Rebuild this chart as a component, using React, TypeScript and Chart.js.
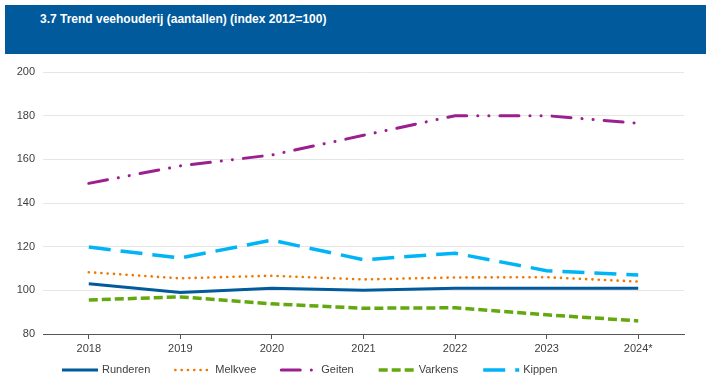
import React, { useEffect, useRef } from "react";
import { Chart, registerables } from "chart.js";

Chart.register(...registerables);

const title = "3.7 Trend veehouderij (aantallen) (index 2012=100)";
const years = ["2018", "2019", "2020", "2021", "2022", "2023", "2024*"];
const runderen = [103, 99, 101, 100, 101, 101, 101];
const melkvee = [108.3, 105.5, 106.7, 105, 105.9, 106, 104];
const geiten = [149, 157, 162, 171, 180, 180, 176.5];
const varkens = [95.6, 97, 93.8, 91.8, 92, 88.8, 86];
const kippen = [119.8, 114.8, 123, 114, 117, 109, 107];
const yMin = 80;
const yMax = 200;
const yStep = 20;

const FONT = "'Liberation Sans', Arial, sans-serif";
const TEXT = "#404040";

const legendPlugin = {
  id: "customLegend",
  afterDraw(chart: any) {
    const ctx = chart.ctx;
    const y = 370;
    let x = 62;
    const sample = 36;
    ctx.save();
    ctx.font = `11px ${FONT}`;
    ctx.textBaseline = "middle";
    chart.data.datasets.forEach((ds: any) => {
      ctx.save();
      ctx.strokeStyle = ds.borderColor;
      ctx.lineWidth = ds.borderWidth;
      ctx.lineCap = ds.borderCapStyle || "butt";
      ctx.setLineDash(ds.borderDash || []);
      ctx.beginPath();
      ctx.moveTo(x, y);
      ctx.lineTo(x + sample, y);
      ctx.stroke();
      ctx.restore();
      const tx = x + sample + 4;
      ctx.fillStyle = TEXT;
      ctx.fillText(ds.label, tx, y);
      x = tx + ctx.measureText(ds.label).width + 25;
    });
    ctx.restore();
  },
};

export default function App() {
  const ref = useRef<HTMLCanvasElement>(null);

  useEffect(() => {
    document.body.style.margin = "0";
    const chart = new Chart(ref.current!, {
      type: "line",
      data: {
        labels: years,
        datasets: [
          {
            label: "Runderen",
            data: runderen,
            borderColor: "#005a9b",
            borderWidth: 3,
            pointRadius: 0,
            tension: 0,
          },
          {
            label: "Melkvee",
            data: melkvee,
            borderColor: "#f07800",
            borderWidth: 2.6,
            borderDash: [0.1, 6.2],
            borderCapStyle: "round",
            pointRadius: 0,
          },
          {
            label: "Geiten",
            data: geiten,
            borderColor: "#9b1f8f",
            borderWidth: 3,
            borderDash: [19, 11, 0.1, 11, 0.1, 11],
            borderCapStyle: "round",
            pointRadius: 0,
          },
          {
            label: "Varkens",
            data: varkens,
            borderColor: "#64a80f",
            borderWidth: 3.5,
            borderDash: [9, 4],
            pointRadius: 0,
          },
          {
            label: "Kippen",
            data: kippen,
            borderColor: "#00b4f5",
            borderWidth: 3.5,
            borderDash: [22, 10],
            pointRadius: 0,
          },
        ],
      },
      options: {
        responsive: false,
        animation: false,
        layout: { padding: { top: 72, right: 22, bottom: 29, left: 0 } },
        plugins: {
          legend: { display: false },
          tooltip: { enabled: false },
          title: { display: false },
        },
        scales: {
          x: {
            offset: true,
            grid: {
              display: true,
              drawOnChartArea: false,
              drawTicks: true,
              tickLength: 5,
              color: "#555555",
            },
            border: { display: true, color: "#555555", width: 1 },
            ticks: {
              color: TEXT,
              font: { family: FONT, size: 11 },
              padding: 3,
              maxRotation: 0,
            },
            afterFit(scale: any) {
              scale.height = 20;
            },
          },
          y: {
            min: yMin,
            max: yMax,
            grid: { color: "#e6e6e6", drawTicks: false, lineWidth: 1 },
            border: { display: false },
            ticks: {
              stepSize: yStep,
              color: TEXT,
              font: { family: FONT, size: 11 },
              padding: 8,
            },
            afterFit(scale: any) {
              scale.width = 43;
            },
          },
        },
      },
      plugins: [legendPlugin],
    });
    return () => chart.destroy();
  }, []);

  return (
    <div
      style={{
        position: "absolute",
        left: 0,
        top: 0,
        width: 706,
        height: 383,
        background: "#ffffff",
        overflow: "hidden",
      }}
    >
      <canvas
        ref={ref}
        width={706}
        height={383}
        style={{ position: "absolute", left: 0, top: 0, width: 706, height: 383 }}
      />
      <div
        style={{
          position: "absolute",
          left: 5,
          top: 5,
          width: 701,
          height: 49,
          background: "#005a9b",
        }}
      >
        <div
          style={{
            position: "absolute",
            left: 35,
            top: 7,
            color: "#ffffff",
            fontFamily: FONT,
            fontWeight: "bold",
            fontSize: 12,
            lineHeight: "14px",
            whiteSpace: "nowrap",
          }}
        >
          {title}
        </div>
      </div>
    </div>
  );
}
